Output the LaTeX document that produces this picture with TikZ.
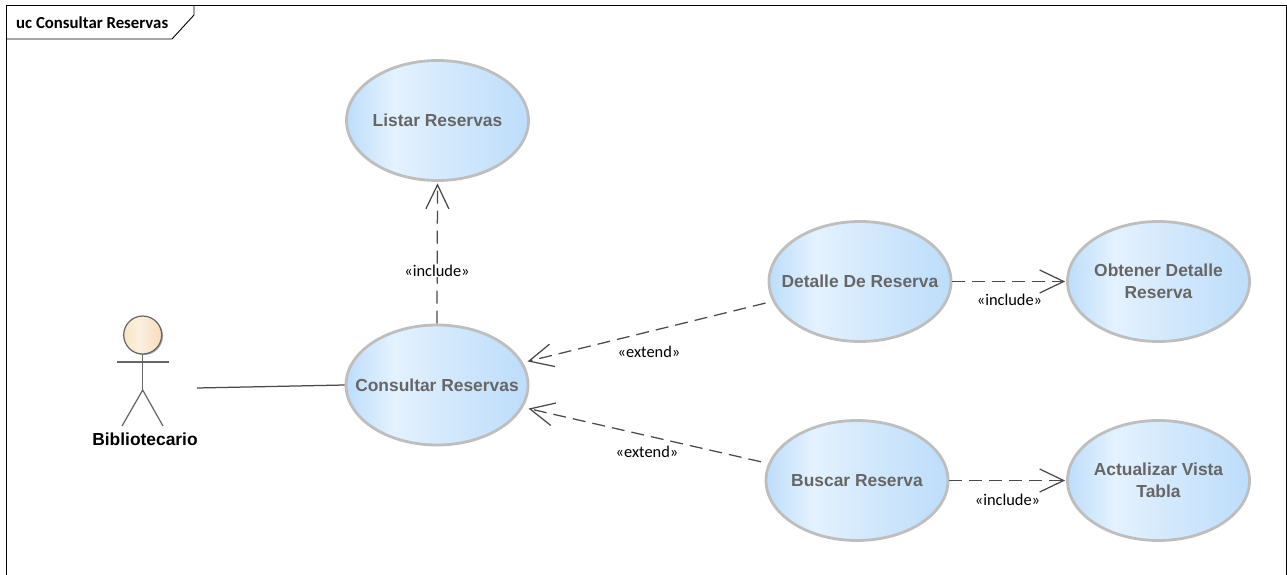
\documentclass[tikz,border=0pt]{standalone}
\usepackage{fontspec}
\setmainfont{Liberation Sans}
\newfontfamily\calfont{Carlito}
\usetikzlibrary{shapes.geometric,arrows.meta,calc}
\definecolor{ucblue}{HTML}{BDDDFB}
\definecolor{uclight}{HTML}{E4F2FE}
\definecolor{ucmid}{HTML}{D6EAFC}
\definecolor{headA}{HTML}{F9E4C6}
\definecolor{headB}{HTML}{FBF0E0}
\definecolor{headC}{HTML}{F7DDBB}
\definecolor{ucborder}{HTML}{BEBEBE}
\definecolor{uctext}{HTML}{666666}
\definecolor{lineC}{HTML}{4A4A4A}
\pgfdeclarehorizontalshading{ucshade}{100bp}{
  color(0bp)=(ucblue); color(25bp)=(ucblue); color(38bp)=(uclight); color(50bp)=(ucmid); color(75bp)=(ucblue); color(100bp)=(ucblue)}
\pgfdeclarehorizontalshading{actshade}{100bp}{
  color(0bp)=(headA); color(25bp)=(headA); color(45bp)=(headB); color(75bp)=(headC); color(100bp)=(headC)}
\newcommand{\zw}[1]{\makebox[0pt][c]{#1}}
\tikzset{
  usecase/.style={ellipse,draw=ucborder,line width=2.8pt,shading=ucshade,
    minimum width=182pt,minimum height=120pt,inner sep=0pt,align=center,
    text=uctext,font=\fontsize{17.4}{22}\selectfont\bfseries},
  dep/.style={draw=lineC,line width=1.25pt,dash pattern=on 13pt off 7pt,
    -{Straight Barb[length=24pt,width=23pt,line width=1.25pt]}},
  assoc/.style={draw=lineC,line width=1.25pt},
  stereo/.style={font=\calfont\fontsize{16.4}{18}\selectfont,inner sep=0pt,text=black},
  frameline/.style={draw=black,line width=0.9pt},
  actorline/.style={draw=lineC!85!white,line width=1.2pt}
}
\begin{document}
\begin{tikzpicture}[x=1pt,y=-1pt]
\useasboundingbox (0,0) rectangle (1287,575);
\fill[white] (0,0) rectangle (1287,575);
% frame
\draw[frameline] (6.5,575) -- (6.5,5.5) -- (1286,5.5) -- (1286,575);
\draw[frameline] (6.5,39) -- (172,39) -- (194,15) -- (194,5.5);
\node[font=\calfont\bfseries\fontsize{16.8}{18}\selectfont,anchor=west,inner sep=0pt] (title) at (16,23) {uc Consultar Reservas};
% use cases
\node[usecase] (listar) at (437.5,120.5) {\zw{Listar Reservas}};
\node[usecase] (consultar) at (437,385) {\zw{\raisebox{-2pt}{Consultar Reservas}}};
\node[usecase] (detalle) at (860,281.5) {\zw{Detalle De Reserva}};
\node[usecase] (obtener) at (1158.5,281.5) {\zw{Obtener Detalle}\\\zw{Reserva}};
\node[usecase] (buscar) at (857,480.5) {\zw{\raisebox{-1.5pt}{Buscar Reserva}}};
\node[usecase] (actualizar) at (1158.5,480.5) {\zw{\raisebox{-1pt}{Actualizar Vista}}\\\zw{\raisebox{-1pt}{Tabla}}};
% actor
\fill[gray!70] (144,336) circle (19);
\node[circle,draw=lineC!85!white,line width=1.2pt,shading=actshade,minimum size=38pt,inner sep=0pt] (head) at (142.7,335) {};
\coordinate (hip) at (142.7,390);
\coordinate (footL) at (122,426);
\coordinate (footR) at (163,426);
\coordinate (armL) at (117,362);
\coordinate (armR) at (169,362);
\draw[actorline] (head.south) -- (hip);
\draw[actorline] (armL) -- (armR);
\draw[actorline] (footL) -- (hip) -- (footR);
\node[font=\fontsize{17.4}{18}\selectfont\bfseries,inner sep=0pt] (actor) at (145,439.5) {Bibliotecario};
% connectors
\coordinate (assocStart) at (197,388);
\draw[assoc] (assocStart) -- (consultar.west);
\draw[dep] (consultar.north) -- ($(listar.south)+(0,1.5)$);
\draw[dep] ($(detalle.194)+(-8,0)$) -- ($(consultar.14)+(4,-2)$);
\draw[dep] ($(buscar.168)+(-8,0)$) -- ($(consultar.-14)+(5,2)$);
\draw[dep] (detalle.east) -- ($(obtener.west)+(-1,0)$);
\draw[dep] (buscar.east) -- ($(actualizar.west)+(-1,0)$);
% labels
\node[stereo,fill=white,inner xsep=1pt] (l1) at (437,271) {«include»};
\node[stereo] (l2) at (649,352) {«extend»};
\node[stereo] (l3) at (647,452) {«extend»};
\node[stereo] (l4) at (1009.5,300) {«include»};
\node[stereo] (l5) at (1007.5,500) {«include»};
\end{tikzpicture}
\end{document}
